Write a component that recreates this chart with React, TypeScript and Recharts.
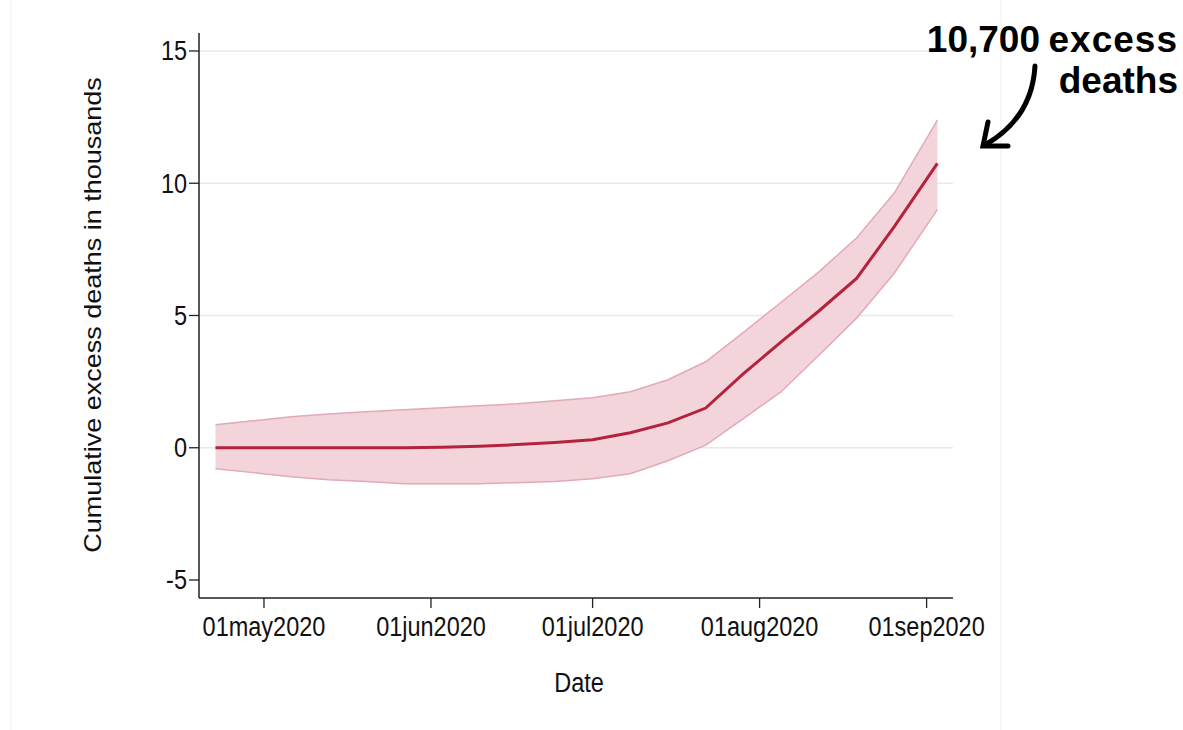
import React from 'react';
import { ComposedChart, Area, Line, XAxis, YAxis, CartesianGrid } from 'recharts';

// Weekly estimates (thousands of cumulative excess deaths)
const dates = [
  '2020-04-22', '2020-04-29', '2020-05-06', '2020-05-13', '2020-05-20',
  '2020-05-27', '2020-06-03', '2020-06-10', '2020-06-17', '2020-06-24',
  '2020-07-01', '2020-07-08', '2020-07-15', '2020-07-22', '2020-07-29',
  '2020-08-05', '2020-08-12', '2020-08-19', '2020-08-26', '2020-09-03',
];
const meanK = [0, 0, 0, 0, 0, 0, 0.02, 0.06, 0.12, 0.2, 0.3, 0.57, 0.94, 1.5, 2.8, 4.0, 5.17, 6.4, 8.36, 10.75];
const lowerK = [-0.79, -0.94, -1.1, -1.21, -1.28, -1.36, -1.36, -1.36, -1.32, -1.28, -1.17, -0.98, -0.49, 0.1, 1.1, 2.12, 3.5, 4.9, 6.6, 9.0];
const upperK = [0.87, 1.02, 1.17, 1.28, 1.36, 1.44, 1.51, 1.59, 1.66, 1.78, 1.89, 2.12, 2.57, 3.25, 4.36, 5.5, 6.65, 7.93, 9.63, 12.39];

const tickDates = ['2020-05-01', '2020-06-01', '2020-07-01', '2020-08-01', '2020-09-01'];
const tickLabels = ['01may2020', '01jun2020', '01jul2020', '01aug2020', '01sep2020'];
const yTicks = [-5, 0, 5, 10, 15];
const gridValues = [0, 5, 10, 15];

const ORIGIN = Date.UTC(2020, 4, 1);
const dayOf = (s: string) => {
  const [y, m, d] = s.split('-').map(Number);
  return Math.round((Date.UTC(y, m - 1, d) - ORIGIN) / 86400000);
};

const data = dates.map((d, i) => ({ day: dayOf(d), mean: meanK[i], band: [lowerK[i], upperK[i]] }));
const xTicks = tickDates.map(dayOf);

const FONT = '"Liberation Sans", Arial, Helvetica, sans-serif';
const SQ = 0.87;

const YTick = (props: any) => {
  const { x, y, payload } = props;
  return (
    <g transform={`translate(${x},${y})`}>
      <text transform={`scale(${SQ},1)`} textAnchor="end" dy="0.35em" fontSize={27} fill="#111" fontFamily={FONT}>
        {payload.value}
      </text>
    </g>
  );
};

const XTick = (props: any) => {
  const { x, y, payload } = props;
  const idx = xTicks.indexOf(payload.value);
  return (
    <g transform={`translate(${x},${y})`}>
      <text transform={`scale(${SQ},1)`} textAnchor="middle" dy="0.71em" fontSize={27} fill="#111" fontFamily={FONT}>
        {idx >= 0 ? tickLabels[idx] : ''}
      </text>
    </g>
  );
};

export default function App() {
  return (
    <div style={{ position: 'absolute', left: 0, top: 0, width: 1183, height: 730, background: '#fff' }}>
      <ComposedChart
        width={1183}
        height={730}
        data={data}
        margin={{ top: 33, right: 230, bottom: 92, left: 139 }}
      >
        <CartesianGrid vertical={false} horizontalValues={gridValues} stroke="#e9e9e9" strokeWidth={1.5} />
        <XAxis
          type="number"
          dataKey="day"
          domain={[-12.06, 127.9]}
          allowDataOverflow
          ticks={xTicks}
          interval={0}
          height={40}
          tickSize={10}
          tickMargin={9}
          tick={<XTick />}
          axisLine={{ stroke: '#222', strokeWidth: 1.5 }}
          tickLine={{ stroke: '#222', strokeWidth: 1.3 }}
        />
        <YAxis
          type="number"
          domain={[-5.68, 15.68]}
          allowDataOverflow
          ticks={yTicks}
          interval={0}
          width={60}
          tickSize={10}
          tickMargin={2}
          tick={<YTick />}
          axisLine={{ stroke: '#222', strokeWidth: 1.5 }}
          tickLine={{ stroke: '#222', strokeWidth: 1.3 }}
        />
        <Area
          type="linear"
          dataKey="band"
          fill="#f2d4da"
          fillOpacity={1}
          stroke="#e2aab6"
          strokeWidth={1.5}
          isAnimationActive={false}
        />
        <Line
          type="linear"
          dataKey="mean"
          stroke="#b5223e"
          strokeWidth={3}
          dot={false}
          isAnimationActive={false}
        />
      </ComposedChart>
      <svg
        width={1183}
        height={730}
        style={{ position: 'absolute', left: 0, top: 0, pointerEvents: 'none' }}
      >
        <line x1={11} y1={0} x2={11} y2={730} stroke="#eeeeee" strokeWidth={1} />
        <line x1={1001} y1={0} x2={1001} y2={730} stroke="#eeeeee" strokeWidth={1} />
        <text
          transform={`translate(101,315) scale(${SQ},1) rotate(-90)`}
          textAnchor="middle"
          fontSize={27}
          fill="#111"
          fontFamily={FONT}
        >
          Cumulative excess deaths in thousands
        </text>
        <text
          transform={`translate(579,692) scale(${SQ},1)`}
          textAnchor="middle"
          fontSize={27}
          fill="#111"
          fontFamily={FONT}
        >
          Date
        </text>
        <text x={1040} y={52} textAnchor="end" fontSize={37} fontWeight="bold" fill="#000" fontFamily={FONT}>
          10,700
        </text>
        <text x={1178} y={52} textAnchor="end" fontSize={37} fontWeight="bold" fill="#000" fontFamily={FONT} letterSpacing={1}>
          excess
        </text>
        <text x={1178} y={93} textAnchor="end" fontSize={37} fontWeight="bold" fill="#000" fontFamily={FONT}>
          deaths
        </text>
        <path d="M1035 66 Q1032 118 985 145" fill="none" stroke="#000" strokeWidth={5} strokeLinecap="round" />
        <polyline points="988,122 983,146 1008,146" fill="none" stroke="#000" strokeWidth={5} strokeLinejoin="miter" strokeLinecap="round" />
      </svg>
    </div>
  );
}
